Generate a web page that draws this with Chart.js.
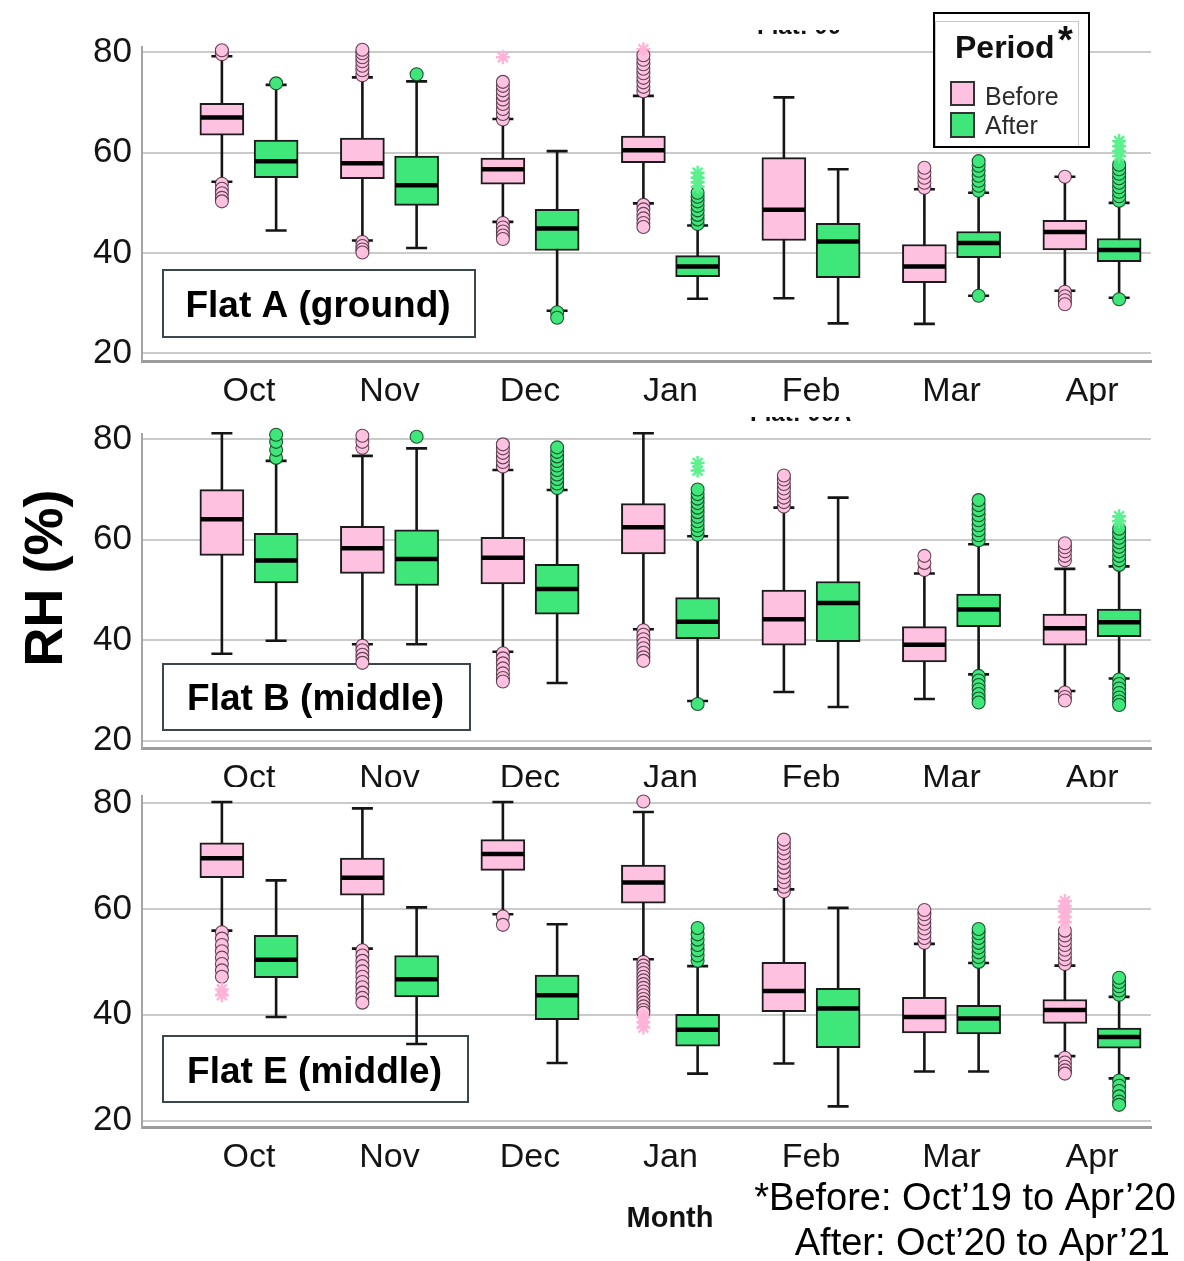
<!DOCTYPE html>
<html>
<head>
<meta charset="utf-8">
<script src="https://cdn.jsdelivr.net/npm/chart.js@4.4.1/dist/chart.umd.min.js"></script>
<style>
  html, body { margin: 0; padding: 0; background: #fff; }
  #page { position: relative; width: 1184px; height: 1261px; overflow: hidden; background: #fff; }
  #page canvas { position: absolute; left: 0; }
</style>
</head>
<body>
<div id="page">
  <canvas id="under" width="1184" height="1261" style="top:0px"></canvas>
  <canvas id="panelA" width="1184" height="405" style="top:0px"></canvas>
  <canvas id="panelB" width="1184" height="382" style="top:405px"></canvas>
  <canvas id="panelE" width="1184" height="474" style="top:787px"></canvas>
  <canvas id="notes" width="1184" height="1261" style="top:0px"></canvas>
</div>
<script>
// ---- categories and ticks ----
const months = ['Oct', 'Nov', 'Dec', 'Jan', 'Feb', 'Mar', 'Apr'];
const yTicks = [20, 40, 60, 80];

// ---- Flat A (ground): RH (%) box statistics ----
const A_before_low  = [54.2, 42.5, 46.2, 49.9, 31.0, 25.9, 32.5];
const A_before_q1   = [63.5, 54.8, 53.7, 58.0, 42.5, 34.1, 40.6];
const A_before_med  = [67.0, 57.9, 56.7, 60.5, 48.6, 37.3, 44.2];
const A_before_q3   = [69.8, 62.9, 58.9, 63.3, 59.0, 41.7, 46.5];
const A_before_high = [79.2, 75.0, 66.7, 71.3, 71.0, 52.7, 55.2];
const A_after_low   = [44.5, 41.0, 28.5, 30.9, 26.0, 31.5, 31.1];
const A_after_q1    = [55.0, 49.5, 40.5, 35.3, 35.1, 39.1, 38.3];
const A_after_med   = [58.3, 53.5, 44.9, 37.3, 42.3, 42.0, 40.6];
const A_after_q3    = [62.5, 59.3, 48.7, 39.5, 45.9, 44.3, 42.9];
const A_after_high  = [73.5, 74.2, 60.3, 45.5, 56.7, 52.0, 50.0];
const A_before_out = [
  [79.6, 80.4, 53.8, 52.8, 51.9, 51.0, 50.3],
  [75.4, 76.4, 77.3, 78.2, 79.0, 79.8, 80.5, 42.2, 41.4, 40.7, 40.1],
  [66.6, 67.7, 68.7, 69.7, 70.6, 71.5, 72.4, 73.3, 74.1, 46.0, 45.1, 44.3, 43.5, 42.8],
  [72.2, 73.1, 74.0, 74.9, 75.8, 76.7, 77.6, 78.5, 79.4, 49.6, 48.7, 47.8, 46.9, 46.0, 45.2],
  [],
  [53.0, 54.0, 55.0, 56.0, 57.0],
  [55.2, 32.3, 31.4, 30.6, 29.8]
];
const A_before_ext = [[], [], [79.0], [80.6], [], [], []];
const A_after_out = [
  [73.8],
  [75.6],
  [28.2, 27.1],
  [45.8, 46.7, 47.6, 48.5, 49.4, 50.3, 51.2, 52.0],
  [],
  [52.4, 53.4, 54.4, 55.4, 56.4, 57.4, 58.3, 31.5],
  [50.4, 51.3, 52.2, 53.1, 54.0, 54.9, 55.8, 56.7, 57.6, 30.8]
];
const A_after_ext = [[], [], [], [53.2, 54.1, 55.0, 56.0], [], [], [59.3, 60.3, 61.3, 62.3]];

// ---- Flat B (middle) ----
const B_before_low  = [37.3, 39.2, 37.7, 42.2, 29.7, 28.3, 29.9];
const B_before_q1   = [56.9, 53.3, 51.2, 57.2, 39.0, 35.7, 39.0];
const B_before_med  = [64.1, 58.3, 56.4, 62.5, 44.2, 39.1, 42.4];
const B_before_q3   = [70.0, 62.7, 60.5, 67.2, 50.0, 42.7, 45.2];
const B_before_high = [81.2, 76.7, 73.9, 81.2, 66.4, 53.3, 54.2];
const B_after_low   = [39.9, 39.2, 31.5, 27.9, 26.7, 33.2, 32.4];
const B_after_q1    = [51.4, 50.9, 45.2, 40.3, 39.7, 42.7, 40.7];
const B_after_med   = [55.9, 56.2, 50.2, 43.7, 47.4, 46.1, 43.6];
const B_after_q3    = [61.3, 62.0, 55.1, 48.5, 51.7, 49.2, 46.2];
const B_after_high  = [75.7, 78.2, 69.9, 60.7, 68.4, 59.1, 54.7];
const B_before_out = [
  [],
  [78.3, 79.5, 80.7, 38.9, 38.0, 37.1, 36.3, 35.5],
  [74.6, 75.5, 76.4, 77.3, 78.2, 79.0, 37.4, 36.4, 35.4, 34.4, 33.4, 32.5, 31.8],
  [42.0, 41.1, 40.2, 39.3, 38.4, 37.5, 36.6, 35.9],
  [66.6, 67.5, 68.4, 69.3, 70.2, 71.1, 72.0, 72.8],
  [54.0, 55.4, 56.8],
  [55.9, 56.8, 57.7, 58.5, 59.3, 29.6, 28.7, 28.0]
];
const B_before_ext = [[], [], [], [], [], [], []];
const B_after_out = [
  [76.3, 77.9, 79.5, 80.9],
  [80.5],
  [70.3, 71.2, 72.1, 73.0, 73.9, 74.8, 75.7, 76.6, 77.5, 78.4],
  [61.0, 61.9, 62.8, 63.7, 64.6, 65.5, 66.4, 67.3, 68.2, 69.1, 70.0, 27.3],
  [],
  [59.9, 60.9, 61.9, 62.9, 63.9, 64.9, 65.9, 66.9, 67.9, 32.9, 32.0, 31.1, 30.2, 29.3, 28.4, 27.6],
  [55.0, 55.9, 56.8, 57.7, 58.6, 59.5, 60.4, 61.3, 62.2, 32.2, 31.3, 30.4, 29.5, 28.6, 27.8, 27.1]
];
const B_after_ext = [[], [], [], [73.8, 75.3], [], [], [63.7, 64.7]];

// ---- Flat E (middle) ----
const E_before_low  = [55.9, 52.5, 59.0, 50.5, 30.8, 29.3, 32.2];
const E_before_q1   = [65.9, 62.6, 67.3, 61.1, 40.6, 36.6, 38.4];
const E_before_med  = [69.6, 65.9, 70.4, 65.0, 44.5, 39.6, 40.9];
const E_before_q3   = [72.5, 69.6, 73.1, 68.3, 49.9, 43.3, 42.9];
const E_before_high = [80.2, 79.0, 80.2, 78.3, 63.7, 53.4, 49.3];
const E_after_low   = [39.6, 34.5, 30.9, 28.9, 22.7, 29.3, 28.0];
const E_after_q1    = [47.0, 43.4, 39.1, 34.1, 33.8, 36.4, 33.7];
const E_after_med   = [50.4, 46.7, 43.7, 37.2, 41.2, 39.3, 35.8];
const E_after_q3    = [55.0, 51.2, 47.5, 40.1, 45.0, 41.8, 37.5];
const E_after_high  = [65.4, 60.3, 57.1, 49.2, 60.2, 49.8, 43.4];
const E_before_out = [
  [55.6, 54.4, 53.2, 52.0, 50.8, 49.6, 48.4, 47.2],
  [52.2, 51.2, 50.2, 49.2, 48.2, 47.2, 46.2, 45.2, 44.2, 43.2, 42.3],
  [58.6, 57.0],
  [80.3, 50.0, 49.3, 48.6, 47.9, 47.2, 46.5, 45.8, 45.1, 44.4, 43.7, 43.0, 42.3, 41.6, 40.9, 40.4],
  [63.3, 64.2, 65.1, 66.0, 66.9, 67.8, 68.7, 69.6, 70.5, 71.4, 72.3, 73.1],
  [53.6, 54.5, 55.4, 56.3, 57.2, 58.1, 59.0, 59.8],
  [49.6, 50.5, 51.4, 52.3, 53.2, 54.1, 55.0, 55.9, 31.9, 31.0, 30.2, 29.5, 28.9]
];
const E_before_ext = [[44.8, 43.7], [], [], [39.6, 38.6, 37.6], [], [], [57.5, 58.5, 59.5, 60.5, 61.5]];
const E_after_out = [
  [],
  [],
  [],
  [50.2, 51.2, 52.2, 53.2, 54.2, 55.2, 56.4],
  [],
  [50.0, 50.9, 51.8, 52.7, 53.6, 54.5, 55.4, 56.2],
  [43.8, 44.6, 45.4, 46.2, 47.0, 27.6, 26.6, 25.6, 24.6, 23.6, 23.0]
];
const E_after_ext = [[], [], [], [], [], [], []];

// ---- look ----
const PINK = '#FFC1E0';
const GREEN = '#3FE77B';
const BOX_SHIFT = 0.193;     // distance of each period's box from the month centre (category units)
const BOX_WIDTH = 44;
const CAP_WIDTH = 21;
const FONT = '"Liberation Sans", Arial, Helvetica, sans-serif';

Chart.defaults.font.family = FONT;

function period(shift, fill, edge, star, low, q1, med, q3, high, out, ext) {
  return { shift, fill, edge, star, low, q1, med, q3, high, out, ext };
}

function pointsOf(lists, shift) {
  const pts = [];
  lists.forEach((vals, i) => vals.forEach(v => pts.push({ x: i + shift, y: v })));
  return pts;
}

// whiskers behind the boxes, medians on top of them
function whiskerPlugin(series) {
  return {
    id: 'boxWhiskers',
    beforeDatasetsDraw(chart) {
      const { ctx, scales: { x, y } } = chart;
      ctx.save();
      ctx.strokeStyle = '#151515';
      ctx.lineWidth = 2.6;
      series.forEach(s => {
        s.low.forEach((lo, i) => {
          const px = x.getPixelForValue(i + s.shift);
          const yLo = y.getPixelForValue(lo);
          const yHi = y.getPixelForValue(s.high[i]);
          ctx.beginPath();
          ctx.moveTo(px, yLo); ctx.lineTo(px, yHi);
          ctx.moveTo(px - CAP_WIDTH / 2, yLo); ctx.lineTo(px + CAP_WIDTH / 2, yLo);
          ctx.moveTo(px - CAP_WIDTH / 2, yHi); ctx.lineTo(px + CAP_WIDTH / 2, yHi);
          ctx.stroke();
        });
      });
      ctx.restore();
    },
    afterDatasetsDraw(chart) {
      const { ctx, scales: { x, y } } = chart;
      ctx.save();
      ctx.strokeStyle = '#000';
      ctx.lineWidth = 4.5;
      series.forEach(s => {
        s.med.forEach((m, i) => {
          const px = x.getPixelForValue(i + s.shift);
          const py = y.getPixelForValue(m);
          ctx.beginPath();
          ctx.moveTo(px - BOX_WIDTH / 2 + 1, py);
          ctx.lineTo(px + BOX_WIDTH / 2 - 1, py);
          ctx.stroke();
        });
      });
      ctx.restore();
    }
  };
}

function buildPanel(id, series, yMin, yMax, areaTop, xAxisHeight) {
  const datasets = [];
  series.forEach(s => {
    datasets.push({
      type: 'scatter', data: pointsOf(s.ext, s.shift), pointStyle: 'star',
      pointRadius: 7, borderColor: s.star, backgroundColor: s.star, borderWidth: 2.4, clip: false
    });
  });
  series.forEach(s => {
    datasets.push({
      type: 'scatter', data: pointsOf(s.out, s.shift), pointStyle: 'circle',
      pointRadius: 6.5, backgroundColor: s.fill, borderColor: s.edge, borderWidth: 1.1, clip: false
    });
  });
  series.forEach(s => {
    datasets.push({
      type: 'bar',
      data: s.q1.map((q, i) => ({ x: i + s.shift, y: [q, s.q3[i]] })),
      backgroundColor: s.fill, borderColor: '#1b1b1b', borderWidth: 2,
      borderSkipped: false, barThickness: BOX_WIDTH, grouped: false
    });
  });

  return new Chart(document.getElementById(id), {
    type: 'bar',
    data: { datasets },
    options: {
      responsive: false,
      animation: false,
      devicePixelRatio: 1,
      events: [],
      layout: { padding: { top: areaTop, right: 33, left: 0, bottom: 0 } },
      plugins: { legend: { display: false }, tooltip: { enabled: false } },
      scales: {
        x: {
          type: 'linear', min: -0.7616, max: 6.4199, offset: false,
          grid: { display: false, drawTicks: false, offset: false },
          border: { display: true, color: '#9c9c9c', width: 3 },
          afterBuildTicks: sc => { sc.ticks = months.map((m, i) => ({ value: i })); },
          ticks: {
            autoSkip: false, maxRotation: 0, minRotation: 0, padding: 10,
            font: { size: 34 }, color: '#141414',
            callback: v => months[v]
          },
          afterFit: sc => { sc.height = xAxisHeight; sc.paddingLeft = 0; sc.paddingRight = 0; }
        },
        y: {
          type: 'linear', min: yMin, max: yMax,
          grid: { color: '#cbcbcb', lineWidth: 2, drawTicks: false },
          border: { display: true, color: '#a4a4a4', width: 2 },
          afterBuildTicks: sc => { sc.ticks = yTicks.map(v => ({ value: v })); },
          ticks: { padding: 10, font: { size: 35 }, color: '#141414' },
          afterFit: sc => { sc.width = 142; sc.paddingTop = 0; sc.paddingBottom = 0; }
        }
      }
    },
    plugins: [whiskerPlugin(series)]
  });
}

const PINK_EDGE = 'rgba(45,20,35,0.75)';
const GREEN_EDGE = 'rgba(10,55,25,0.85)';
const PINK_STAR = '#FFB3D6';
const GREEN_STAR = '#5CF08E';

// framed panel names sit underneath the plotted marks
(function drawNames() {
  const ctx = document.getElementById('under').getContext('2d');
  function nameBox(text, x, y, w, h, baseline) {
    ctx.strokeStyle = '#3a4650';
    ctx.lineWidth = 2;
    ctx.strokeRect(x, y, w, h);
    ctx.fillStyle = '#000';
    ctx.font = 'bold 37px ' + FONT;
    ctx.textAlign = 'center';
    ctx.fillText(text, x + w / 2 - 1, baseline);
  }
  nameBox('Flat A (ground)', 163, 270, 312, 67, 317);
  nameBox('Flat B (middle)', 163, 664, 307, 66, 710);
  nameBox('Flat E (middle)', 163, 1036, 305, 66, 1083);
})();

buildPanel('panelA', [
  period(-BOX_SHIFT, PINK, PINK_EDGE, PINK_STAR, A_before_low, A_before_q1, A_before_med, A_before_q3, A_before_high, A_before_out, A_before_ext),
  period(BOX_SHIFT, GREEN, GREEN_EDGE, GREEN_STAR, A_after_low, A_after_q1, A_after_med, A_after_q3, A_after_high, A_after_out, A_after_ext)
], 18.5, 81.1, 46.7, 44);

buildPanel('panelB', [
  period(-BOX_SHIFT, PINK, PINK_EDGE, PINK_STAR, B_before_low, B_before_q1, B_before_med, B_before_q3, B_before_high, B_before_out, B_before_ext),
  period(BOX_SHIFT, GREEN, GREEN_EDGE, GREEN_STAR, B_after_low, B_after_q1, B_after_med, B_after_q3, B_after_high, B_after_out, B_after_ext)
], 18.55, 81.06, 29, 39);

buildPanel('panelE', [
  period(-BOX_SHIFT, PINK, PINK_EDGE, PINK_STAR, E_before_low, E_before_q1, E_before_med, E_before_q3, E_before_high, E_before_out, E_before_ext),
  period(BOX_SHIFT, GREEN, GREEN_EDGE, GREEN_STAR, E_after_low, E_after_q1, E_after_med, E_after_q3, E_after_high, E_after_out, E_after_ext)
], 18.68, 81.26, 8, 133.3);

// ---- annotations: legend, axis titles, footnote ----
(function drawNotes() {
  const ctx = document.getElementById('notes').getContext('2d');
  ctx.textBaseline = 'alphabetic';

  // cut-off panel titles peeking out at the top of the upper two panels
  function clippedTitle(text, x, baseline, clipTop) {
    ctx.save();
    ctx.beginPath();
    ctx.rect(x - 5, clipTop, 130, baseline + 2 - clipTop);
    ctx.clip();
    ctx.fillStyle = '#111';
    ctx.font = 'bold 24px ' + FONT;
    ctx.textAlign = 'left';
    ctx.fillText(text, x, baseline);
    ctx.restore();
  }
  clippedTitle('Flat: 00', 757, 34, 30);
  clippedTitle('Flat: 00A', 750, 421, 417);

  // legend
  ctx.fillStyle = '#fff';
  ctx.fillRect(933, 12, 157, 136);
  ctx.strokeStyle = '#c9c9c9';
  ctx.lineWidth = 1;
  ctx.strokeRect(935.5, 21.5, 143, 126);
  ctx.strokeStyle = '#000';
  ctx.lineWidth = 2;
  ctx.strokeRect(934, 13, 155, 134);
  ctx.fillStyle = '#111';
  ctx.textAlign = 'left';
  ctx.font = 'bold 32px ' + FONT;
  ctx.fillText('Period', 955, 58);
  ctx.font = 'bold 38px ' + FONT;
  ctx.fillText('*', 1058, 53);
  ctx.lineWidth = 2;
  ctx.strokeStyle = '#333';
  ctx.fillStyle = PINK;
  ctx.fillRect(951, 82, 23, 23);
  ctx.strokeRect(951, 82, 23, 23);
  ctx.fillStyle = GREEN;
  ctx.fillRect(951, 113, 23, 24);
  ctx.strokeRect(951, 113, 23, 24);
  ctx.fillStyle = '#2b2b2b';
  ctx.font = '25px ' + FONT;
  ctx.fillText('Before', 985, 105);
  ctx.fillText('After', 985, 134);

  // y-axis title
  ctx.save();
  ctx.translate(47, 578);
  ctx.rotate(-Math.PI / 2);
  ctx.fillStyle = '#000';
  ctx.font = 'bold 54px ' + FONT;
  ctx.textAlign = 'center';
  ctx.textBaseline = 'middle';
  ctx.fillText('RH (%)', 0, 0);
  ctx.restore();

  // x-axis title
  ctx.fillStyle = '#111';
  ctx.font = 'bold 29px ' + FONT;
  ctx.textAlign = 'center';
  ctx.fillText('Month', 670, 1227);

  // footnote
  ctx.fillStyle = '#000';
  ctx.font = '38px ' + FONT;
  ctx.textAlign = 'right';
  ctx.fillText('*Before: Oct\u201919 to Apr\u201920', 1176, 1210);
  ctx.fillText('After: Oct\u201920 to Apr\u201921', 1170, 1255);
})();
</script>
</body>
</html>
